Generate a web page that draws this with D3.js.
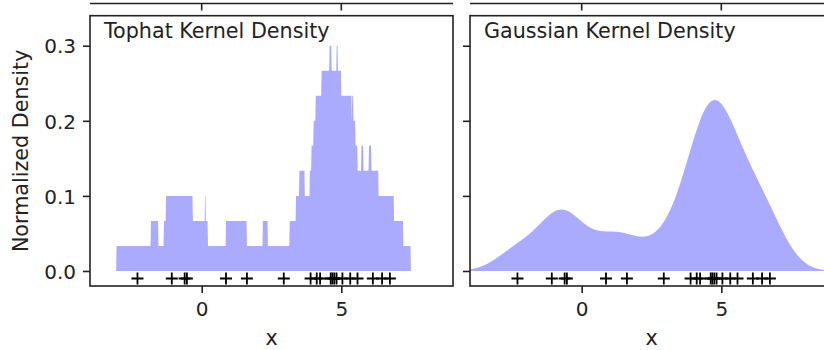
<!DOCTYPE html>
<html>
<head>
<meta charset="utf-8">
<script src="https://cdn.jsdelivr.net/npm/d3@7"></script>
<style>
  body { margin: 0; background: #fff; }
  svg { display: block; font-family: "DejaVu Sans", sans-serif; }
  .tick text { font-size: 20px; fill: #222; }
  .tick line { stroke: #222; stroke-width: 1.6; }
</style>
</head>
<body>
<svg id="chart" width="824" height="350"></svg>
<script>
var samples = [1.62, -0.61, -0.53, -1.07, 0.87, -2.30,
               6.74, 4.24, 5.32, 4.75, 6.46, 2.94, 4.68, 4.62, 6.13, 3.90, 4.83, 4.12, 5.04, 5.58];
var xTicks = [0, 5];
var yTicks = [0.0, 0.1, 0.2, 0.3];
var panelTitles = ["Tophat Kernel Density", "Gaussian Kernel Density"];
var kernels = ["tophat", "gaussian"];
var bandwidth = 0.75;

var svg = d3.select("#chart");
var panelW = 363, plotTop = 15.7, plotBottom = 286;
var panelLeft = [90, 470];

var y = d3.scaleLinear().domain([-0.02, 0.34]).range([plotBottom, plotTop]);

// evaluation grid for the kde fill
var grid = d3.range(1000).map(function(i) { return -5 + i * 15 / 999; });

function density(kind, x0) {
  var n = samples.length, h = bandwidth;
  if (kind == "tophat") {
    var c = samples.filter(function(s) { return Math.abs(x0 - s) < h; }).length;
    return c / (n * 2 * h);
  }
  var sum = d3.sum(samples, function(s) { var u = (x0 - s) / h; return Math.exp(-0.5 * u * u); });
  return sum / (n * h * Math.sqrt(2 * Math.PI));
}

panelLeft.forEach(function(left, p) {
  var x = d3.scaleLinear().domain([-4, 9]).range([left, left + panelW]);
  var g = svg.append("g");

  // partial axis of the row above (cropped)
  g.append("line").attr("x1", left).attr("x2", left + panelW).attr("y1", 3.5).attr("y2", 3.5)
    .attr("stroke", "#222").attr("stroke-width", 1.6);
  xTicks.forEach(function(t) {
    g.append("line").attr("x1", x(t)).attr("x2", x(t)).attr("y1", 3.5).attr("y2", 10.5)
      .attr("stroke", "#222").attr("stroke-width", 1.6);
  });

  g.append("clipPath").attr("id", "clip" + p)
    .append("rect").attr("x", left).attr("y", plotTop).attr("width", panelW).attr("height", plotBottom - plotTop);

  var pts = grid.map(function(v) { return [v, density(kernels[p], v)]; });
  var line = d3.line().x(function(d) { return x(d[0]); }).y(function(d) { return y(d[1]); });
  g.append("path")
    .attr("clip-path", "url(#clip" + p + ")")
    .attr("d", line(pts) + "Z")
    .attr("fill", "#AAAAFF");

  // sample markers
  g.append("g").attr("clip-path", "url(#clip" + p + ")")
    .selectAll("path").data(samples).enter().append("path")
    .attr("d", function(s) {
      var cx = x(s), cy = y(-0.01), r = 6;
      return "M" + (cx - r) + "," + cy + "H" + (cx + r) + "M" + cx + "," + (cy - r) + "V" + (cy + r);
    })
    .attr("stroke", "#000").attr("stroke-width", 1.8).attr("fill", "none");

  g.append("text").attr("x", x(-3.5)).attr("y", y(0.31))
    .attr("font-size", "20.7px").attr("fill", "#222").text(panelTitles[p]);

  var xAxis = g.append("g").attr("transform", "translate(0," + plotBottom + ")")
    .call(d3.axisBottom(x).tickValues(xTicks).tickFormat(d3.format("d")).tickSize(7).tickPadding(9));
  xAxis.select(".domain").remove();
  xAxis.attr("font-family", null).attr("font-size", null);

  var yAxis = g.append("g").attr("transform", "translate(" + left + ",0)")
    .call(d3.axisLeft(y).tickValues(yTicks).tickFormat(p == 0 ? d3.format(".1f") : "").tickSize(7).tickPadding(7));
  yAxis.select(".domain").remove();
  yAxis.attr("font-family", null).attr("font-size", null);
  yAxis.selectAll("text").attr("dy", "0.36em");

  g.append("rect").attr("x", left).attr("y", plotTop).attr("width", panelW).attr("height", plotBottom - plotTop)
    .attr("fill", "none").attr("stroke", "#222").attr("stroke-width", 1.6);

  g.append("text").attr("x", left + panelW / 2).attr("y", 345)
    .attr("text-anchor", "middle").attr("font-size", "20.7px").attr("fill", "#222").text("x");
});

svg.append("text")
  .attr("transform", "translate(28," + ((plotTop + plotBottom) / 2) + ") rotate(-90)")
  .attr("text-anchor", "middle").attr("font-size", "20.7px").attr("fill", "#222")
  .text("Normalized Density");
</script>
</body>
</html>
